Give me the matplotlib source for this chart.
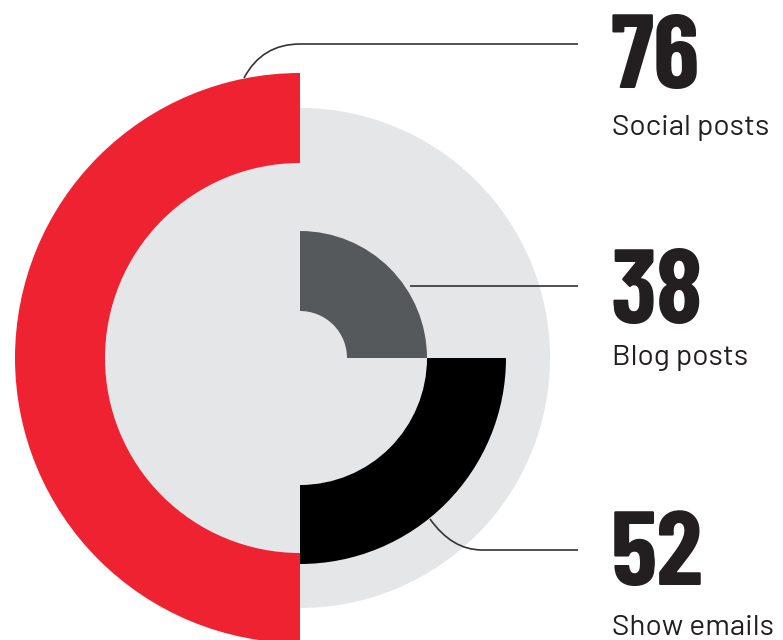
import matplotlib.pyplot as plt
from matplotlib.patches import Wedge, Circle, PathPatch
from matplotlib.path import Path

values = [76, 38, 52]
labels = ["Social posts", "Blog posts", "Show emails"]
colors = ["#ee2230", "#55595c", "#000000"]
# ring geometry (outer radius, width, start angle, end angle)
rings = [(285, 90, 90, 270), (127, 80, 0, 90), (206, 79, 270, 360)]

W, H = 783, 640
cx, cy = 300, H - 358

fig = plt.figure(figsize=(W / 100, H / 100), dpi=100)
ax = fig.add_axes([0, 0, 1, 1])
ax.set_xlim(0, W)
ax.set_ylim(0, H)
ax.set_aspect("equal")
ax.axis("off")

ax.add_patch(Circle((cx, cy), 250, color="#e5e6e8", lw=0))
for (r, w, t1, t2), c in zip(rings, colors):
    ax.add_patch(Wedge((cx, cy), r, t1, t2, width=w, color=c, lw=0))

# leader lines
lc = "#333333"
def leader(pts, codes):
    p = Path([(x, H - y) for x, y in pts], codes)
    ax.add_patch(PathPatch(p, fill=False, ec=lc, lw=1.2))

leader([(244, 78), (262, 44), (300, 44), (578, 44)],
       [Path.MOVETO, Path.CURVE3, Path.CURVE3, Path.LINETO])
leader([(410, 286), (578, 286)], [Path.MOVETO, Path.LINETO])
leader([(430, 519), (452, 550), (482, 550), (578, 550)],
       [Path.MOVETO, Path.CURVE3, Path.CURVE3, Path.LINETO])

num_y = [88, 323, 585]
lab_y = [135, 365, 635]
tc = "#231f20"
for v, lab, ny, ly in zip(values, labels, num_y, lab_y):
    ax.text(611, H - ny, str(v), fontsize=76, fontweight="bold",
            family=["Barlow Condensed", "DejaVu Sans"], color=tc,
            ha="left", va="baseline")
    ax.text(612, H - ly, lab, fontsize=21.5, fontweight="normal",
            family=["Barlow", "DejaVu Sans"],
            color=tc, ha="left", va="baseline")

fig.savefig("out.png", dpi=100)
